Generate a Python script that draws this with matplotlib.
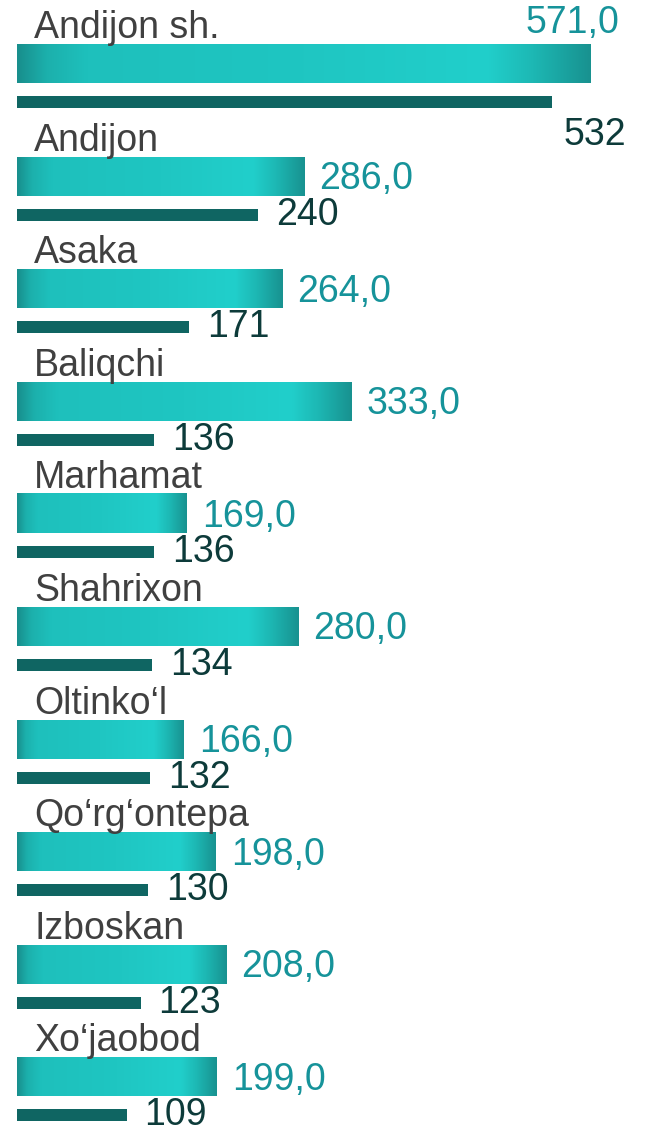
import numpy as np
from matplotlib import pyplot as plt
from matplotlib.colors import LinearSegmentedColormap

regions = ['Andijon sh.', 'Andijon', 'Asaka', 'Baliqchi', 'Marhamat', 'Shahrixon',
           'Oltinko‘l', 'Qo‘rg‘ontepa', 'Izboskan', 'Xo‘jaobod']
light_vals = [571.0, 286.0, 264.0, 333.0, 169.0, 280.0, 166.0, 198.0, 208.0, 199.0]
dark_vals = [532, 240, 171, 136, 136, 134, 132, 130, 123, 109]

plt.rcParams['font.family'] = ['Liberation Sans', 'DejaVu Sans']

# pixel -> data units
px_x = 1 / 1.005
px_y = 1 / 112.6

fig = plt.figure(figsize=(6.46, 11.33), dpi=100)
ax = fig.add_axes([0, 0, 1, 1])
ax.axis('off')

y = np.arange(len(regions))
h_light = 39 * px_y
h_dark = 12 * px_y
dark_off = 38.5 * px_y

grad = LinearSegmentedColormap.from_list('g', [
    (0.0, '#188f8d'), (0.05, '#1cb0ac'), (0.12, '#1ec0bc'), (0.5, '#1fc6c2'),
    (0.82, '#21cfcb'), (0.9, '#1db8b4'), (1.0, '#189290')])
gimg = np.linspace(0, 1, 256).reshape(1, -1)

bars = ax.barh(y, light_vals, height=h_light, color='none', edgecolor='none')
for b in bars:
    x0, y0, w, hh = b.get_x(), b.get_y(), b.get_width(), b.get_height()
    ax.imshow(gimg, cmap=grad, aspect='auto', extent=(x0, x0 + w, y0 + hh, y0),
              interpolation='bicubic', zorder=2)
ax.set_xlim(-17 * px_x, (646 - 17) * px_x)
ax.set_ylim(-63.5 * px_y + 1133 * px_y, -63.5 * px_y)

ax.barh(y + dark_off, dark_vals, height=h_dark, color='#0f6562', zorder=2)

fs = 27
for i, (name, lv, dv) in enumerate(zip(regions, light_vals, dark_vals)):
    ax.text(17 * px_x, i - h_light / 2 - 6 * px_y, name, fontsize=fs,
            color='#404040', va='baseline', ha='left')
    ltxt = f'{lv:.1f}'.replace('.', ',')
    if i == 0:
        ax.text((619 - 17) * px_x, i - 41 * px_y, ltxt, fontsize=fs,
                color='#16939a', va='center', ha='right')
        ax.text((626 - 17) * px_x, i + dark_off + 33 * px_y, str(dv), fontsize=fs,
                color='#0d3b3a', va='center', ha='right')
    else:
        ax.text(lv + 15 * px_x, i + 3 * px_y, ltxt, fontsize=fs,
                color='#16939a', va='center', ha='left')
        ax.text(dv + 18 * px_x, i + dark_off, str(dv), fontsize=fs,
                color='#0d3b3a', va='center', ha='left')

plt.savefig('out.png', dpi=100)
